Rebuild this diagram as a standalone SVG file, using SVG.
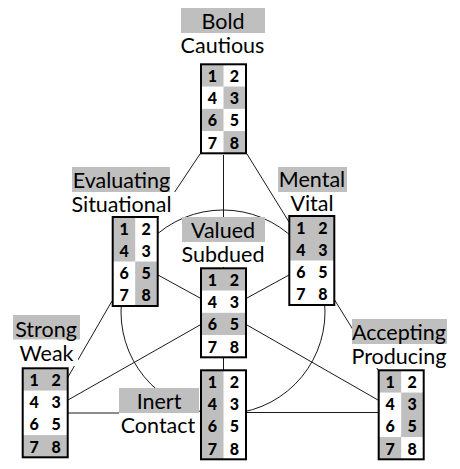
<svg xmlns="http://www.w3.org/2000/svg" width="460" height="469" viewBox="0 0 460 469">
<style>
.bg{fill:#ffffff}
.hl{fill:#bfbfbf}
.lbl{font-family:Lato,"Liberation Sans",sans-serif;font-size:21.5px;fill:#000;text-anchor:middle}
.num{font-family:Lato,"Liberation Sans",sans-serif;font-size:16px;font-weight:900;fill:#000;text-anchor:middle}
.fill{fill:#ffffff}
.frame{fill:none;stroke:#000;stroke-width:2}
.cell{fill:#bfbfbf}
.conn line,.conn circle{stroke:#1a1a1a;stroke-width:1;fill:none}
</style>
<rect width="460" height="469" fill="#ffffff"/>
<g id="connectors" class="conn">
<circle cx="223" cy="312" r="102"/>
<line x1="200" y1="154" x2="158" y2="217"/>
<line x1="247" y1="154" x2="289" y2="222"/>
<line x1="223.5" y1="155" x2="223.5" y2="268"/>
<line x1="158" y1="275" x2="200" y2="298"/>
<line x1="247" y1="298" x2="289" y2="275"/>
<line x1="68" y1="400" x2="200" y2="325"/>
<line x1="247" y1="325" x2="378" y2="400"/>
<line x1="68" y1="413" x2="200" y2="413"/>
<line x1="247" y1="412.5" x2="378" y2="412.5"/>
<line x1="223.5" y1="357" x2="223.5" y2="370"/>
<line x1="112" y1="301" x2="68" y2="377"/>
<line x1="334" y1="299" x2="378" y2="370"/>
</g>
<g id="node-bold-cautious">
<rect class="hl" x="181" y="8" width="84" height="25"/>
<text class="lbl" x="223" y="29">Bold</text>
<text class="lbl" x="222.5" y="53">Cautious</text>
<g transform="translate(201,64.3)">
<rect class="fill" x="0" y="0" width="45" height="89"/>
<rect class="cell" x="0" y="0" width="22.5" height="22.25"/>
<rect class="cell" x="22.5" y="22.25" width="22.5" height="22.25"/>
<rect class="cell" x="0" y="44.5" width="22.5" height="22.25"/>
<rect class="cell" x="22.5" y="66.75" width="22.5" height="22.25"/>
<rect class="frame" x="0" y="0" width="45" height="89"/>
<text class="num" x="11.5" y="17.6">1</text><text class="num" x="33.5" y="17.6">2</text>
<text class="num" x="11.5" y="39.8">4</text><text class="num" x="33.5" y="39.8">3</text>
<text class="num" x="11.5" y="62.1">6</text><text class="num" x="33.5" y="62.1">5</text>
<text class="num" x="11.5" y="84.3">7</text><text class="num" x="33.5" y="84.3">8</text>
</g>
</g>
<g id="node-evaluating-situational">
<rect class="bg" x="70" y="192" width="106" height="24"/>
<rect class="hl" x="72" y="167" width="98" height="25"/>
<text class="lbl" x="121.5" y="187.5">Evaluating</text>
<text class="lbl" x="121.5" y="211.5">Situational</text>
<g transform="translate(112.7,217)">
<rect class="fill" x="0" y="0" width="45" height="89"/>
<rect class="cell" x="0" y="0" width="22.5" height="44.5"/>
<rect class="cell" x="22.5" y="44.5" width="22.5" height="44.5"/>
<rect class="frame" x="0" y="0" width="45" height="89"/>
<text class="num" x="11.5" y="17.6">1</text><text class="num" x="33.5" y="17.6">2</text>
<text class="num" x="11.5" y="39.8">4</text><text class="num" x="33.5" y="39.8">3</text>
<text class="num" x="11.5" y="62.1">6</text><text class="num" x="33.5" y="62.1">5</text>
<text class="num" x="11.5" y="84.3">7</text><text class="num" x="33.5" y="84.3">8</text>
</g>
</g>
<g id="node-mental-vital">
<rect class="bg" x="288" y="192" width="48" height="23"/>
<rect class="hl" x="278" y="167" width="69" height="25"/>
<text class="lbl" x="312" y="187">Mental</text>
<text class="lbl" x="312" y="211">Vital</text>
<g transform="translate(289.3,216)">
<rect class="fill" x="0" y="0" width="45" height="89"/>
<rect class="cell" x="0" y="0" width="45" height="44.5"/>
<rect class="frame" x="0" y="0" width="45" height="89"/>
<text class="num" x="11.5" y="17.6">1</text><text class="num" x="33.5" y="17.6">2</text>
<text class="num" x="11.5" y="39.8">4</text><text class="num" x="33.5" y="39.8">3</text>
<text class="num" x="11.5" y="62.1">6</text><text class="num" x="33.5" y="62.1">5</text>
<text class="num" x="11.5" y="84.3">7</text><text class="num" x="33.5" y="84.3">8</text>
</g>
</g>
<g id="node-valued-subdued">
<rect class="bg" x="182" y="242" width="83" height="25"/>
<rect class="hl" x="182" y="217" width="83" height="25"/>
<text class="lbl" x="223" y="237.5">Valued</text>
<text class="lbl" x="223" y="261.5">Subdued</text>
<g transform="translate(201,268.3)">
<rect class="fill" x="0" y="0" width="45" height="89"/>
<rect class="cell" x="0" y="0" width="45" height="22.25"/>
<rect class="cell" x="0" y="44.5" width="45" height="22.25"/>
<rect class="frame" x="0" y="0" width="45" height="89"/>
<text class="num" x="11.5" y="17.6">1</text><text class="num" x="33.5" y="17.6">2</text>
<text class="num" x="11.5" y="39.8">4</text><text class="num" x="33.5" y="39.8">3</text>
<text class="num" x="11.5" y="62.1">6</text><text class="num" x="33.5" y="62.1">5</text>
<text class="num" x="11.5" y="84.3">7</text><text class="num" x="33.5" y="84.3">8</text>
</g>
</g>
<g id="node-strong-weak">
<rect class="bg" x="13" y="339" width="65" height="27"/>
<rect class="hl" x="13" y="315" width="67" height="24.5"/>
<text class="lbl" x="46" y="336.5">Strong</text>
<text class="lbl" x="46.5" y="361">Weak</text>
<g transform="translate(22.7,368.3)">
<rect class="fill" x="0" y="0" width="45" height="89"/>
<rect class="cell" x="0" y="0" width="45" height="22.25"/>
<rect class="cell" x="0" y="66.75" width="45" height="22.25"/>
<rect class="frame" x="0" y="0" width="45" height="89"/>
<text class="num" x="11.5" y="17.6">1</text><text class="num" x="33.5" y="17.6">2</text>
<text class="num" x="11.5" y="39.8">4</text><text class="num" x="33.5" y="39.8">3</text>
<text class="num" x="11.5" y="62.1">6</text><text class="num" x="33.5" y="62.1">5</text>
<text class="num" x="11.5" y="84.3">7</text><text class="num" x="33.5" y="84.3">8</text>
</g>
</g>
<g id="node-inert-contact">
<rect class="bg" x="119" y="412" width="81" height="28"/>
<rect class="hl" x="119" y="388" width="80" height="25"/>
<text class="lbl" x="159" y="409">Inert</text>
<text class="lbl" x="158" y="433">Contact</text>
<g transform="translate(201,370.3)">
<rect class="fill" x="0" y="0" width="45" height="89"/>
<rect class="cell" x="0" y="0" width="22.5" height="89"/>
<rect class="frame" x="0" y="0" width="45" height="89"/>
<text class="num" x="11.5" y="17.6">1</text><text class="num" x="33.5" y="17.6">2</text>
<text class="num" x="11.5" y="39.8">4</text><text class="num" x="33.5" y="39.8">3</text>
<text class="num" x="11.5" y="62.1">6</text><text class="num" x="33.5" y="62.1">5</text>
<text class="num" x="11.5" y="84.3">7</text><text class="num" x="33.5" y="84.3">8</text>
</g>
</g>
<g id="node-accepting-producing">
<rect class="bg" x="348" y="344" width="103" height="24"/>
<rect class="hl" x="352" y="319" width="95" height="25"/>
<text class="lbl" x="399" y="340">Accepting</text>
<text class="lbl" x="399" y="363.5">Producing</text>
<g transform="translate(378.7,370.3)">
<rect class="fill" x="0" y="0" width="45" height="89"/>
<rect class="cell" x="0" y="0" width="22.5" height="22.25"/>
<rect class="cell" x="22.5" y="22.25" width="22.5" height="44.5"/>
<rect class="cell" x="0" y="66.75" width="22.5" height="22.25"/>
<rect class="frame" x="0" y="0" width="45" height="89"/>
<text class="num" x="11.5" y="17.6">1</text><text class="num" x="33.5" y="17.6">2</text>
<text class="num" x="11.5" y="39.8">4</text><text class="num" x="33.5" y="39.8">3</text>
<text class="num" x="11.5" y="62.1">6</text><text class="num" x="33.5" y="62.1">5</text>
<text class="num" x="11.5" y="84.3">7</text><text class="num" x="33.5" y="84.3">8</text>
</g>
</g>
</svg>
